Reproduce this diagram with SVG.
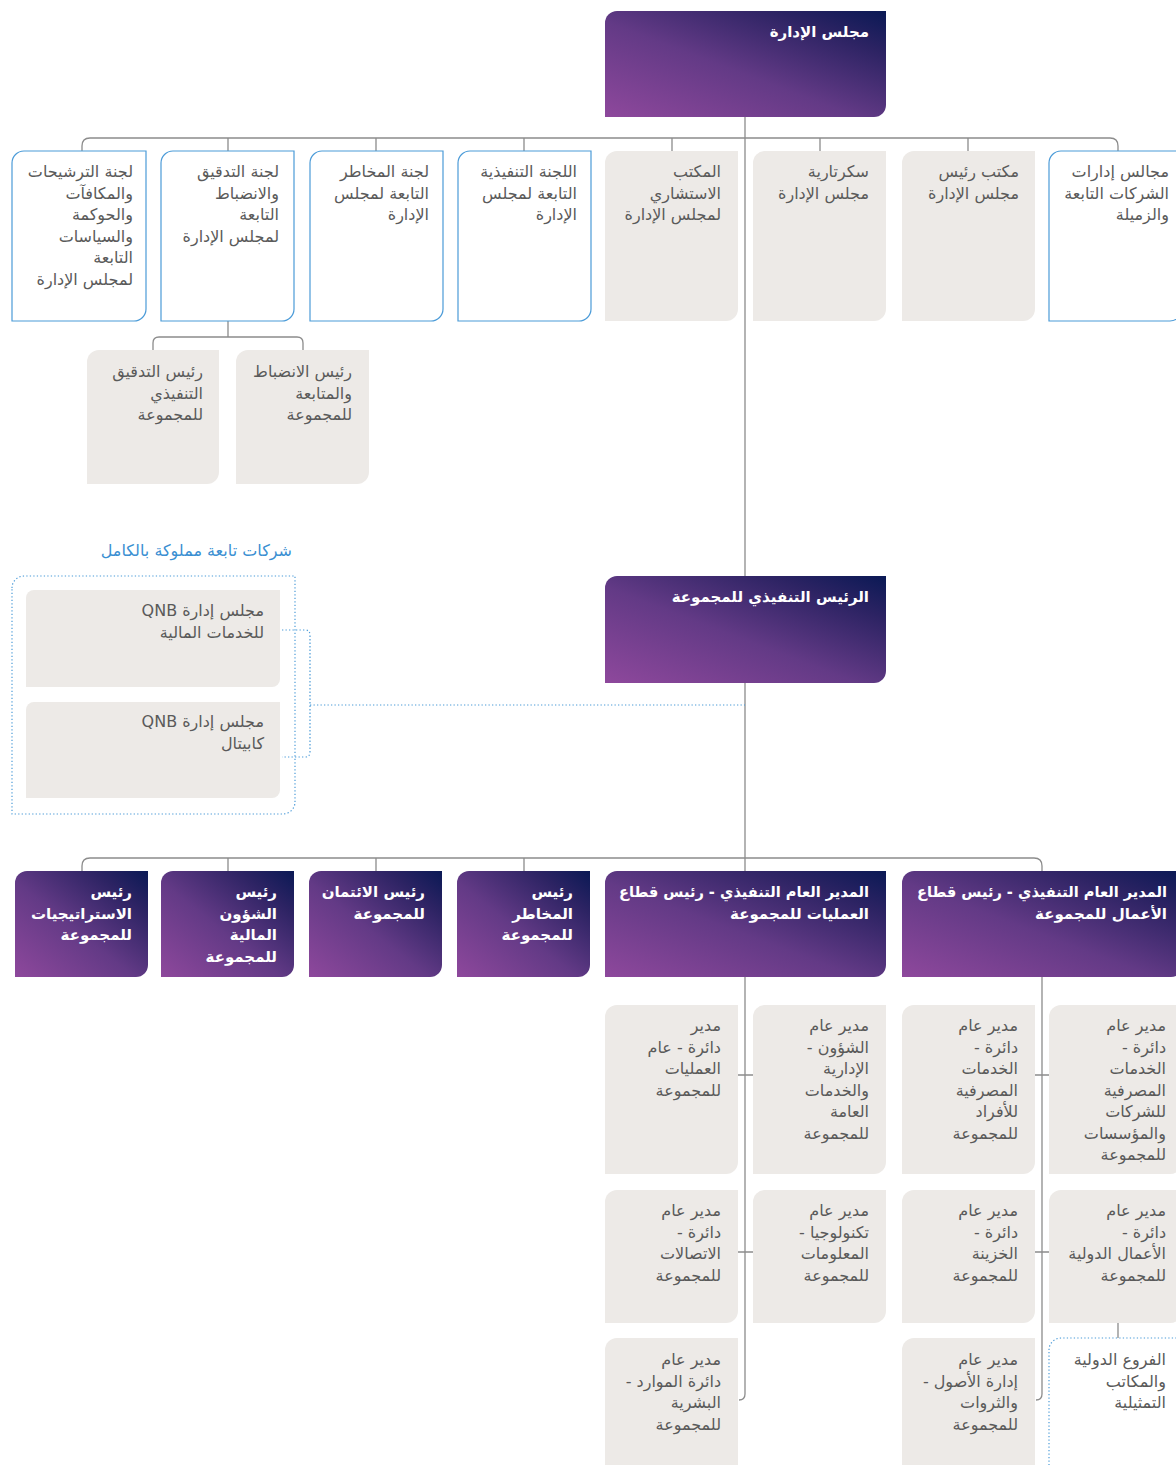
<svg xmlns="http://www.w3.org/2000/svg" width="1176" height="1465" viewBox="0 0 1176 1465">
<defs>
<linearGradient id="pg" x1="0" y1="1" x2="1" y2="0">
<stop offset="0" stop-color="#8e489c"/>
<stop offset="0.45" stop-color="#633a86"/>
<stop offset="0.8" stop-color="#2c2363"/>
<stop offset="1" stop-color="#0a1955"/>
</linearGradient>
<style>
.g{fill:#edeae7}
.o{fill:#ffffff;stroke:#4b9bd8;stroke-width:1.2}
.p{fill:url(#pg)}
.c{fill:none;stroke:#8c8c8c;stroke-width:1.3}
.d{fill:none;stroke:#4b9bd8;stroke-width:1.2;stroke-dasharray:1.3 2.2}
text{font-family:"DejaVu Sans","Noto Sans",sans-serif;font-size:16px;text-anchor:end}
.t{fill:#5a5a5a}
.w{fill:#ffffff;font-weight:bold;font-size:15px}
.b{fill:#3a8fd2}
</style>
</defs>
<rect width="1176" height="1465" fill="#ffffff"/>
<g id="connectors">
<path class="c" d="M745,117 V1394 Q745,1400 739,1400"/>
<path class="c" d="M82,151 V146 Q82,138 90,138 H1110 Q1118,138 1118,146 V151"/>
<path class="c" d="M228,138V151 M376,138V151 M524,138V151 M672,138V151 M820,138V151 M968,138V151"/>
<path class="c" d="M228,321 V337 M153,350 V343 Q153,337 159,337 H297 Q303,337 303,343 V350"/>
<path class="c" d="M82,871 V866 Q82,858 90,858 H1034 Q1042,858 1042,866 V1394 Q1042,1400 1036,1400"/>
<path class="c" d="M228,858V871 M376,858V871 M524,858V871"/>
<path class="c" d="M738,1075 H753 M1035,1075 H1049 M738,1252 H753 M1035,1252 H1049 M1118,1323 V1338"/>
<path class="d" d="M282,630 H305 Q310,630 310,635 V752 Q310,757 305,757 H282 M310,705 H745"/>
</g>
<g id="board">
<path class="p" d="M605,23 A12,12 0 0 1 617,11 H886 V105 A12,12 0 0 1 874,117 H605 Z"/>
<text class="w" x="869" y="37">مجلس الإدارة</text>
</g>
<g id="nomination-committee">
<path class="o" d="M12,163 A12,12 0 0 1 24,151 H146 V309 A12,12 0 0 1 134,321 H12 Z"/>
<text class="t" x="133" y="177">لجنة الترشيحات</text>
<text class="t" x="133" y="198.5">والمكافآت</text>
<text class="t" x="133" y="220">والحوكمة</text>
<text class="t" x="133" y="241.5">والسياسات</text>
<text class="t" x="133" y="263">التابعة</text>
<text class="t" x="133" y="284.5">لمجلس الإدارة</text>
</g>
<g id="audit-committee">
<path class="o" d="M161,163 A12,12 0 0 1 173,151 H294 V309 A12,12 0 0 1 282,321 H161 Z"/>
<text class="t" x="279" y="177">لجنة التدقيق</text>
<text class="t" x="279" y="198.5">والانضباط</text>
<text class="t" x="279" y="220">التابعة</text>
<text class="t" x="279" y="241.5">لمجلس الإدارة</text>
</g>
<g id="risk-committee">
<path class="o" d="M310,163 A12,12 0 0 1 322,151 H443 V309 A12,12 0 0 1 431,321 H310 Z"/>
<text class="t" x="429" y="177">لجنة المخاطر</text>
<text class="t" x="429" y="198.5">التابعة لمجلس</text>
<text class="t" x="429" y="220">الإدارة</text>
</g>
<g id="executive-committee">
<path class="o" d="M458,163 A12,12 0 0 1 470,151 H591 V309 A12,12 0 0 1 579,321 H458 Z"/>
<text class="t" x="577" y="177">اللجنة التنفيذية</text>
<text class="t" x="577" y="198.5">التابعة لمجلس</text>
<text class="t" x="577" y="220">الإدارة</text>
</g>
<g id="advisory-office">
<path class="g" d="M605,163 A12,12 0 0 1 617,151 H738 V309 A12,12 0 0 1 726,321 H605 Z"/>
<text class="t" x="721" y="177">المكتب</text>
<text class="t" x="721" y="198.5">الاستشاري</text>
<text class="t" x="721" y="220">لمجلس الإدارة</text>
</g>
<g id="board-secretariat">
<path class="g" d="M753,163 A12,12 0 0 1 765,151 H886 V309 A12,12 0 0 1 874,321 H753 Z"/>
<text class="t" x="869" y="177">سكرتارية</text>
<text class="t" x="869" y="198.5">مجلس الإدارة</text>
</g>
<g id="chairman-office">
<path class="g" d="M902,163 A12,12 0 0 1 914,151 H1035 V309 A12,12 0 0 1 1023,321 H902 Z"/>
<text class="t" x="1019" y="177">مكتب رئيس</text>
<text class="t" x="1019" y="198.5">مجلس الإدارة</text>
</g>
<g id="subsidiary-boards">
<path class="o" d="M1049,163 A12,12 0 0 1 1061,151 H1182 V309 A12,12 0 0 1 1170,321 H1049 Z"/>
<text class="t" x="1169" y="177">مجالس إدارات</text>
<text class="t" x="1169" y="198.5">الشركات التابعة</text>
<text class="t" x="1169" y="220">والزميلة</text>
</g>
<g id="chief-internal-audit">
<path class="g" d="M87,362 A12,12 0 0 1 99,350 H219 V472 A12,12 0 0 1 207,484 H87 Z"/>
<text class="t" x="203" y="377">رئيس التدقيق</text>
<text class="t" x="203" y="398.5">التنفيذي</text>
<text class="t" x="203" y="420">للمجموعة</text>
</g>
<g id="chief-compliance">
<path class="g" d="M236,362 A12,12 0 0 1 248,350 H369 V472 A12,12 0 0 1 357,484 H236 Z"/>
<text class="t" x="352" y="377">رئيس الانضباط</text>
<text class="t" x="352" y="398.5">والمتابعة</text>
<text class="t" x="352" y="420">للمجموعة</text>
</g>
<g id="wholly-owned">
<text class="b" x="292" y="556">شركات تابعة مملوكة بالكامل</text>
<path class="d" d="M12,588 A12,12 0 0 1 24,576 H295 V802 A12,12 0 0 1 283,814 H12 Z"/>
</g>
<g id="qnb-fs">
<path class="g" d="M26,598 A8,8 0 0 1 34,590 H280 V679 A8,8 0 0 1 272,687 H26 Z"/>
<text class="t" x="264" y="616">QNB  مجلس إدارة</text>
<text class="t" x="264" y="638">للخدمات المالية</text>
</g>
<g id="qnb-capital">
<path class="g" d="M26,710 A8,8 0 0 1 34,702 H280 V790 A8,8 0 0 1 272,798 H26 Z"/>
<text class="t" x="264" y="727">QNB مجلس إدارة</text>
<text class="t" x="264" y="749">كابيتال</text>
</g>
<g id="group-ceo">
<path class="p" d="M605,588 A12,12 0 0 1 617,576 H886 V671 A12,12 0 0 1 874,683 H605 Z"/>
<text class="w" x="869" y="602">الرئيس التنفيذي للمجموعة</text>
</g>
<g id="chief-strategy">
<path class="p" d="M15,883 A12,12 0 0 1 27,871 H148 V965 A12,12 0 0 1 136,977 H15 Z"/>
<text class="w" x="132" y="897">رئيس</text>
<text class="w" x="132" y="918.5">الاستراتيجيات</text>
<text class="w" x="132" y="940">للمجموعة</text>
</g>
<g id="cfo">
<path class="p" d="M161,883 A12,12 0 0 1 173,871 H294 V965 A12,12 0 0 1 282,977 H161 Z"/>
<text class="w" x="277" y="897">رئيس</text>
<text class="w" x="277" y="918.5">الشؤون</text>
<text class="w" x="277" y="940">المالية</text>
<text class="w" x="277" y="961.5">للمجموعة</text>
</g>
<g id="chief-credit">
<path class="p" d="M309,883 A12,12 0 0 1 321,871 H442 V965 A12,12 0 0 1 430,977 H309 Z"/>
<text class="w" x="425" y="897">رئيس الائتمان</text>
<text class="w" x="425" y="918.5">للمجموعة</text>
</g>
<g id="chief-risk">
<path class="p" d="M457,883 A12,12 0 0 1 469,871 H590 V965 A12,12 0 0 1 578,977 H457 Z"/>
<text class="w" x="573" y="897">رئيس</text>
<text class="w" x="573" y="918.5">المخاطر</text>
<text class="w" x="573" y="940">للمجموعة</text>
</g>
<g id="coo">
<path class="p" d="M605,883 A12,12 0 0 1 617,871 H886 V965 A12,12 0 0 1 874,977 H605 Z"/>
<text class="w" x="869" y="897" textLength="250" lengthAdjust="spacingAndGlyphs">المدير العام التنفيذي - رئيس قطاع</text>
<text class="w" x="869" y="918.5">العمليات للمجموعة</text>
</g>
<g id="cbo">
<path class="p" d="M902,883 A12,12 0 0 1 914,871 H1183 V965 A12,12 0 0 1 1171,977 H902 Z"/>
<text class="w" x="1167" y="897" textLength="250" lengthAdjust="spacingAndGlyphs">المدير العام التنفيذي - رئيس قطاع</text>
<text class="w" x="1167" y="918.5">الأعمال للمجموعة</text>
</g>
<g id="gm-operations">
<path class="g" d="M605,1017 A12,12 0 0 1 617,1005 H738 V1162 A12,12 0 0 1 726,1174 H605 Z"/>
<text class="t" x="721" y="1031">مدير</text>
<text class="t" x="721" y="1052.5">دائرة - عام</text>
<text class="t" x="721" y="1074">العمليات</text>
<text class="t" x="721" y="1095.5">للمجموعة</text>
</g>
<g id="gm-admin">
<path class="g" d="M753,1017 A12,12 0 0 1 765,1005 H886 V1162 A12,12 0 0 1 874,1174 H753 Z"/>
<text class="t" x="869" y="1031">مدير عام</text>
<text class="t" x="869" y="1052.5">- الشؤون</text>
<text class="t" x="869" y="1074">الإدارية</text>
<text class="t" x="869" y="1095.5">والخدمات</text>
<text class="t" x="869" y="1117">العامة</text>
<text class="t" x="869" y="1138.5">للمجموعة</text>
</g>
<g id="gm-retail">
<path class="g" d="M902,1017 A12,12 0 0 1 914,1005 H1035 V1162 A12,12 0 0 1 1023,1174 H902 Z"/>
<text class="t" x="1018" y="1031">مدير عام</text>
<text class="t" x="1018" y="1052.5">- دائرة</text>
<text class="t" x="1018" y="1074">الخدمات</text>
<text class="t" x="1018" y="1095.5">المصرفية</text>
<text class="t" x="1018" y="1117">للأفراد</text>
<text class="t" x="1018" y="1138.5">للمجموعة</text>
</g>
<g id="gm-corporate">
<path class="g" d="M1049,1017 A12,12 0 0 1 1061,1005 H1182 V1162 A12,12 0 0 1 1170,1174 H1049 Z"/>
<text class="t" x="1166" y="1031">مدير عام</text>
<text class="t" x="1166" y="1052.5">- دائرة</text>
<text class="t" x="1166" y="1074">الخدمات</text>
<text class="t" x="1166" y="1095.5">المصرفية</text>
<text class="t" x="1166" y="1117">للشركات</text>
<text class="t" x="1166" y="1138.5">والمؤسسات</text>
<text class="t" x="1166" y="1160">للمجموعة</text>
</g>
<g id="gm-communications">
<path class="g" d="M605,1202 A12,12 0 0 1 617,1190 H738 V1311 A12,12 0 0 1 726,1323 H605 Z"/>
<text class="t" x="721" y="1216">مدير عام</text>
<text class="t" x="721" y="1237.5">- دائرة</text>
<text class="t" x="721" y="1259">الاتصالات</text>
<text class="t" x="721" y="1280.5">للمجموعة</text>
</g>
<g id="gm-it">
<path class="g" d="M753,1202 A12,12 0 0 1 765,1190 H886 V1311 A12,12 0 0 1 874,1323 H753 Z"/>
<text class="t" x="869" y="1216">مدير عام</text>
<text class="t" x="869" y="1237.5">- تكنولوجيا</text>
<text class="t" x="869" y="1259">المعلومات</text>
<text class="t" x="869" y="1280.5">للمجموعة</text>
</g>
<g id="gm-treasury">
<path class="g" d="M902,1202 A12,12 0 0 1 914,1190 H1035 V1311 A12,12 0 0 1 1023,1323 H902 Z"/>
<text class="t" x="1018" y="1216">مدير عام</text>
<text class="t" x="1018" y="1237.5">- دائرة</text>
<text class="t" x="1018" y="1259">الخزينة</text>
<text class="t" x="1018" y="1280.5">للمجموعة</text>
</g>
<g id="gm-international">
<path class="g" d="M1049,1202 A12,12 0 0 1 1061,1190 H1182 V1311 A12,12 0 0 1 1170,1323 H1049 Z"/>
<text class="t" x="1166" y="1216">مدير عام</text>
<text class="t" x="1166" y="1237.5">- دائرة</text>
<text class="t" x="1166" y="1259">الأعمال الدولية</text>
<text class="t" x="1166" y="1280.5">للمجموعة</text>
</g>
<g id="gm-hr">
<path class="g" d="M605,1350 A12,12 0 0 1 617,1338 H738 V1466 H605 Z"/>
<text class="t" x="721" y="1365">مدير عام</text>
<text class="t" x="721" y="1386.5">- دائرة الموارد</text>
<text class="t" x="721" y="1408">البشرية</text>
<text class="t" x="721" y="1429.5">للمجموعة</text>
</g>
<g id="gm-wealth">
<path class="g" d="M902,1350 A12,12 0 0 1 914,1338 H1035 V1466 H902 Z"/>
<text class="t" x="1018" y="1365">مدير عام</text>
<text class="t" x="1018" y="1386.5">- إدارة الأصول</text>
<text class="t" x="1018" y="1408">والثروات</text>
<text class="t" x="1018" y="1429.5">للمجموعة</text>
</g>
<g id="international-branches">
<path class="d" d="M1049,1350 A12,12 0 0 1 1061,1338 H1182 V1470 H1049 Z"/>
<text class="t" x="1166" y="1365">الفروع الدولية</text>
<text class="t" x="1166" y="1386.5">والمكاتب</text>
<text class="t" x="1166" y="1408">التمثيلية</text>
</g>
</svg>
